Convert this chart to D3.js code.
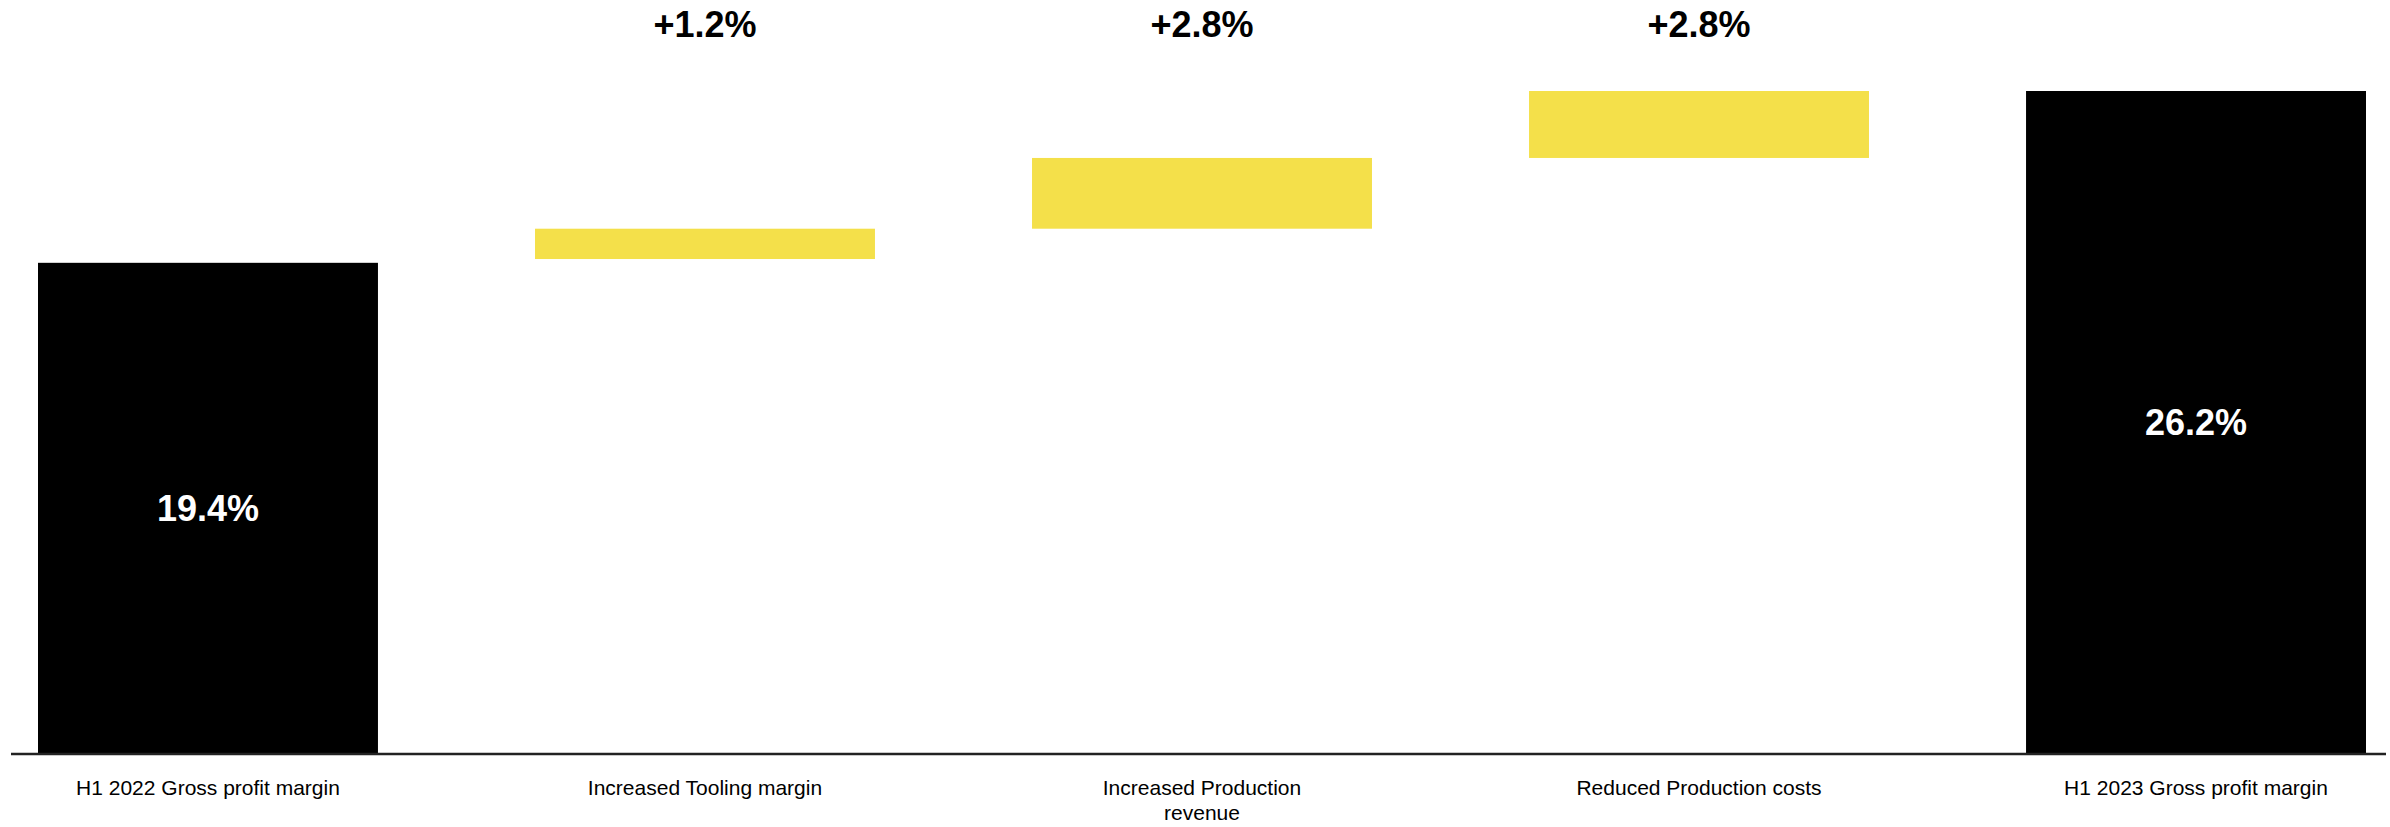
<!doctype HTML>
<html>
<head>
    <style>
        body { margin: 0; background: #ffffff; }
        text { font-family: "Liberation Sans", Arial, sans-serif; }
    </style>
    <script src="https://d3js.org/d3.v7.min.js"></script>
</head>
<body>
<div id="waterfall"></div>
<script>

    // chart data
    var categories = ["H1 2022 Gross profit margin", "Increased Tooling margin",
        "Increased Production\nrevenue", "Reduced Production costs", "H1 2023 Gross profit margin"];
    var barType = ["total", "step", "step", "step", "total"];
    var barFrom = [0, 19.55, 20.75, 23.55, 0];
    var barTo = [19.4, 20.75, 23.55, 26.2, 26.2];
    var valueLabels = ["19.4%", "+1.2%", "+2.8%", "+2.8%", "26.2%"];

    var canvasWidth = 2390;
    var canvasHeight = 827;

    var svg = d3.select("#waterfall").append("svg")
        .attr("width", canvasWidth)
        .attr("height", canvasHeight);

    var data = categories.map(function(c, i){
        return {name: c, type: barType[i], from: barFrom[i], to: barTo[i], label: valueLabels[i]};
    });

    var x = d3.scaleBand()
        .domain(categories)
        .range([38, 2366])
        .paddingInner(0.316)
        .paddingOuter(0);

    var y = d3.scaleLinear()
        .domain([0, 26.2])
        .range([753, 91]);

    // bars
    svg.append("g")
        .selectAll("rect")
        .data(data)
        .join("rect")
        .attr("x", function(d){return x(d.name)})
        .attr("width", x.bandwidth())
        .attr("y", function(d){return y(d.to)})
        .attr("height", function(d){return y(d.from) - y(d.to)})
        .attr("fill", function(d){return d.type == "total" ? "#000000" : "#F4E04A"});

    // baseline
    svg.append("line")
        .attr("x1", 11)
        .attr("x2", 2386)
        .attr("y1", y(0) + 1)
        .attr("y2", y(0) + 1)
        .attr("stroke", "#222222")
        .attr("stroke-width", 2.5);

    // values inside the total bars
    svg.append("g")
        .selectAll("text")
        .data(data.filter(function(d){return d.type == "total"}))
        .join("text")
        .attr("x", function(d){return x(d.name) + x.bandwidth() / 2})
        .attr("y", function(d){return (y(d.from) + y(d.to)) / 2})
        .attr("dy", "0.36em")
        .attr("text-anchor", "middle")
        .attr("font-size", "36px")
        .attr("font-weight", "bold")
        .attr("fill", "#ffffff")
        .text(function(d){return d.label});

    // values above the chart for the steps
    svg.append("g")
        .selectAll("text")
        .data(data.filter(function(d){return d.type == "step"}))
        .join("text")
        .attr("x", function(d){return x(d.name) + x.bandwidth() / 2})
        .attr("y", 37)
        .attr("text-anchor", "middle")
        .attr("font-size", "36px")
        .attr("font-weight", "bold")
        .attr("fill", "#000000")
        .text(function(d){return d.label});

    // category labels under the axis
    var catLabels = svg.append("g")
        .selectAll("text")
        .data(data)
        .join("text")
        .attr("x", function(d){return x(d.name) + x.bandwidth() / 2})
        .attr("y", 795)
        .attr("text-anchor", "middle")
        .attr("font-size", "21px")
        .attr("fill", "#000000");

    catLabels.selectAll("tspan")
        .data(function(d){return d.name.split("\n").map(function(t){return {t: t, cx: x(d.name) + x.bandwidth() / 2}})})
        .join("tspan")
        .attr("x", function(t){return t.cx})
        .attr("dy", function(t, i){return i == 0 ? 0 : 25})
        .text(function(t){return t.t});

</script>
</body>
</html>
